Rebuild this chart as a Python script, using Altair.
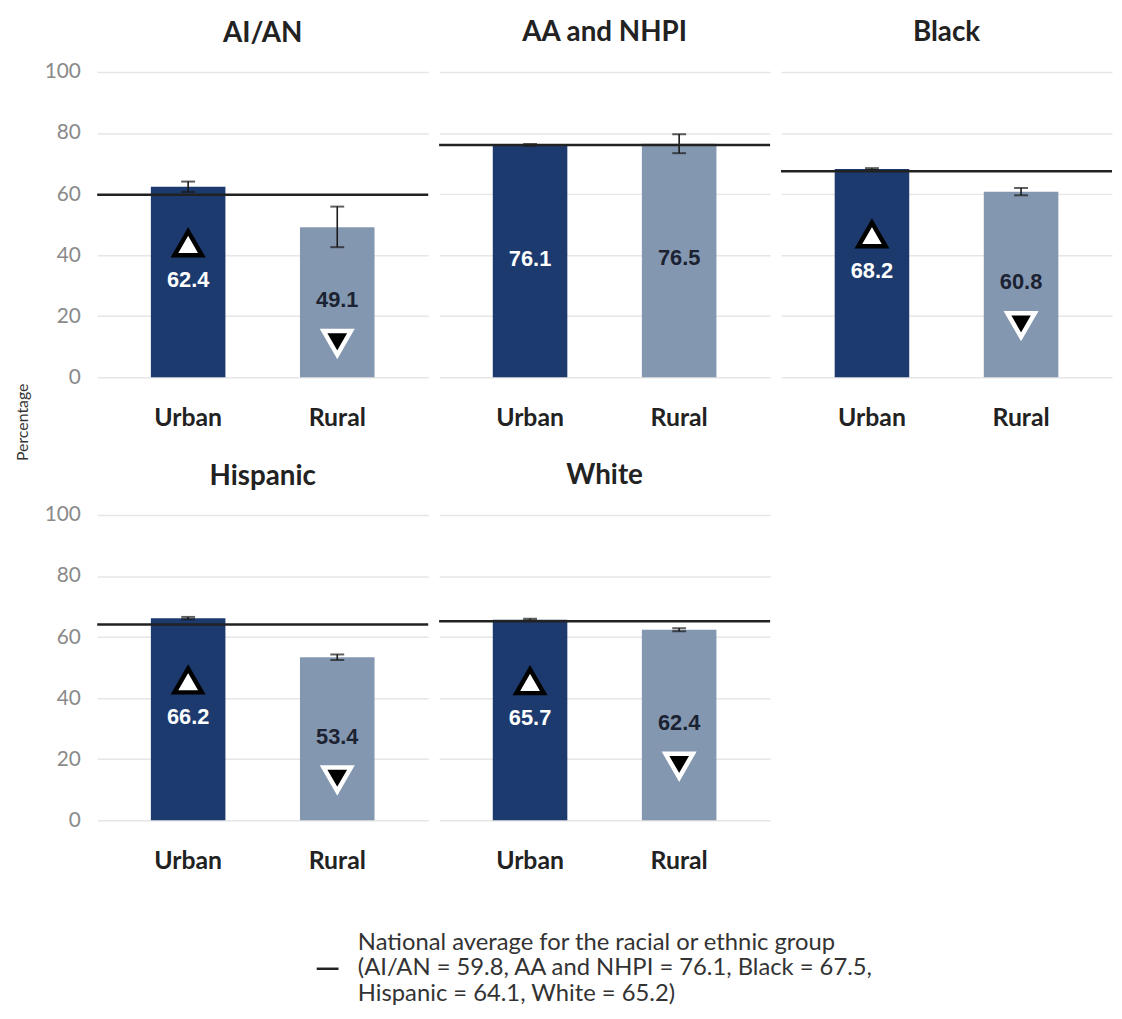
import altair as alt
import pandas as pd

# ---- data ----
groups = ["AI/AN", "AA and NHPI", "Black", "Hispanic", "White"]
areas = ["Urban", "Rural"]
urban_pct = [62.4, 76.1, 68.2, 66.2, 65.7]
rural_pct = [49.1, 76.5, 60.8, 53.4, 62.4]
urban_lo = [60.7, 75.8, 67.9, 65.8, 65.4]
urban_hi = [64.1, 76.4, 68.5, 66.6, 66.0]
rural_lo = [42.6, 73.4, 59.6, 52.5, 61.9]
rural_hi = [55.9, 79.6, 62.0, 54.3, 62.9]
national_avg = [59.8, 76.1, 67.5, 64.1, 65.2]
urban_sig = ["higher", "", "higher", "higher", "higher"]
rural_sig = ["lower", "", "lower", "lower", "lower"]
legend_head = "National average for the racial or ethnic group"

NAVY = "#1c3a6e"
STEEL = "#8497b0"
FONT = "Lato"

rows = []
for i, g in enumerate(groups):
    rows.append(dict(group=g, area="Urban", value=urban_pct[i], lo=urban_lo[i], hi=urban_hi[i], sig=urban_sig[i]))
    rows.append(dict(group=g, area="Rural", value=rural_pct[i], lo=rural_lo[i], hi=rural_hi[i], sig=rural_sig[i]))
bars_df = pd.DataFrame(rows)

legend_label = "|".join([
    legend_head,
    f"({groups[0]} = {national_avg[0]}, {groups[1]} = {national_avg[1]}, {groups[2]} = {national_avg[2]},",
    f"{groups[3]} = {national_avg[3]}, {groups[4]} = {national_avg[4]})",
])
nat_df = pd.DataFrame({"group": groups, "avg": national_avg, "label": [legend_label] * len(groups)})

PW, PH = 334, 308
ticks = [0, 20, 40, 60, 80, 100]


def panel(g, first_col, show_title):
    d = bars_df[bars_df.group == g]
    n = nat_df[nat_df.group == g]
    base = alt.Chart(d).transform_calculate(mid="datum.value / 2")
    xscale = alt.Scale(domain=areas, paddingInner=0.5, paddingOuter=0.36)
    xaxis = alt.Axis(title=None, labelAngle=0, domain=False, ticks=False, tickSize=0,
                     labelPadding=29, labelFont=FONT, labelFontWeight="bold",
                     labelFontSize=25, labelColor="#222222")
    yscale = alt.Scale(domain=[0, 100], nice=False)
    if first_col:
        yaxis = alt.Axis(values=ticks, title="Percentage", titleFont=FONT, titleFontSize=16,
                         titleFontWeight="normal", titleColor="#333333",
                         titleOpacity=1 if show_title else 0,
                         titlePadding=14, titleY=353,
                         labelFont=FONT, labelFontSize=21, labelColor="#8a8a8a",
                         labelPadding=17, domain=False, ticks=False, tickSize=0,
                         grid=True, gridColor="#e6e6e6", gridWidth=1.5)
    else:
        yaxis = alt.Axis(values=ticks, title=None, labels=False, domain=False, ticks=False,
                         tickSize=0, grid=True, gridColor="#e6e6e6", gridWidth=1.5)
    X = alt.X("area:N", sort=areas, scale=xscale, axis=xaxis)

    def Y(field):
        return alt.Y(field, type="quantitative", scale=yscale, axis=yaxis)

    bars = base.mark_bar().encode(
        x=X,
        y=Y("value"),
        color=alt.Color("area:N", scale=alt.Scale(domain=areas, range=[NAVY, STEEL]), legend=None),
    )
    err = base.mark_rule(color="#1a1a1a", strokeWidth=1.6).encode(
        x=X, y=Y("lo"), y2="hi:Q")
    cap_lo = base.mark_tick(color="#1a1a1a", size=14, thickness=2, orient="horizontal").encode(
        x=X, y=Y("lo"))
    cap_hi = base.mark_tick(color="#1a1a1a", size=14, thickness=2, orient="horizontal").encode(
        x=X, y=Y("hi"))
    nat = alt.Chart(n).mark_rule(strokeWidth=2.5).encode(
        y=Y("avg"),
        stroke=alt.Stroke("label:N", scale=alt.Scale(range=["#222222"]),
                          legend=alt.Legend(title=None, orient="none", legendX=220, legendY=866,
                                            padding=0, symbolType="M-1,2.4H1", symbolSize=484,
                                            symbolStrokeWidth=2.5, labelFont=FONT,
                                            labelFontSize=24, labelColor="#333333",
                                            labelLimit=900, labelOffset=18,
                                            labelExpr="split(datum.label, '|')")),
    )
    labels = base.mark_text(font="Liberation Sans", fontWeight="bold", fontSize=22,
                            baseline="middle", dy=-2).encode(
        x=X, y=Y("mid"), text=alt.Text("value:Q", format=".1f"),
        color=alt.condition(alt.datum.area == "Urban", alt.value("#ffffff"), alt.value("#1b2232")),
    )
    up = base.transform_filter(alt.datum.sig == "higher").mark_point(
        shape="triangle-up", fill="#ffffff", stroke="#000000", strokeWidth=4.5,
        size=760, opacity=1, fillOpacity=1, yOffset=-39).encode(x=X, y=Y("mid"))
    down = base.transform_filter(alt.datum.sig == "lower").mark_point(
        shape="triangle-down", fill="#000000", stroke="#ffffff", strokeWidth=4.5,
        size=760, opacity=1, fillOpacity=1, yOffset=41).encode(x=X, y=Y("mid"))

    return alt.layer(bars, err, cap_lo, cap_hi, nat, labels, up, down).properties(
        width=PW, height=PH,
        title=alt.TitleParams(g, font=FONT, fontSize=28, fontWeight="bold", color="#222222",
                              baseline="alphabetic", offset=(-9 if first_col else 3),
                              anchor="middle", frame="group"),
    )


row1 = alt.hconcat(panel(groups[0], True, True), panel(groups[1], False, False),
                   panel(groups[2], False, False), spacing=7)
row2 = alt.hconcat(panel(groups[3], True, False), panel(groups[4], False, False), spacing=7)

chart = alt.vconcat(row1, row2, spacing=1).properties(
    padding={"left": 6, "top": 7, "right": 0, "bottom": 5}
).configure_view(stroke=None)

chart.save("out.html", embed_options={"renderer": "svg", "actions": False})
